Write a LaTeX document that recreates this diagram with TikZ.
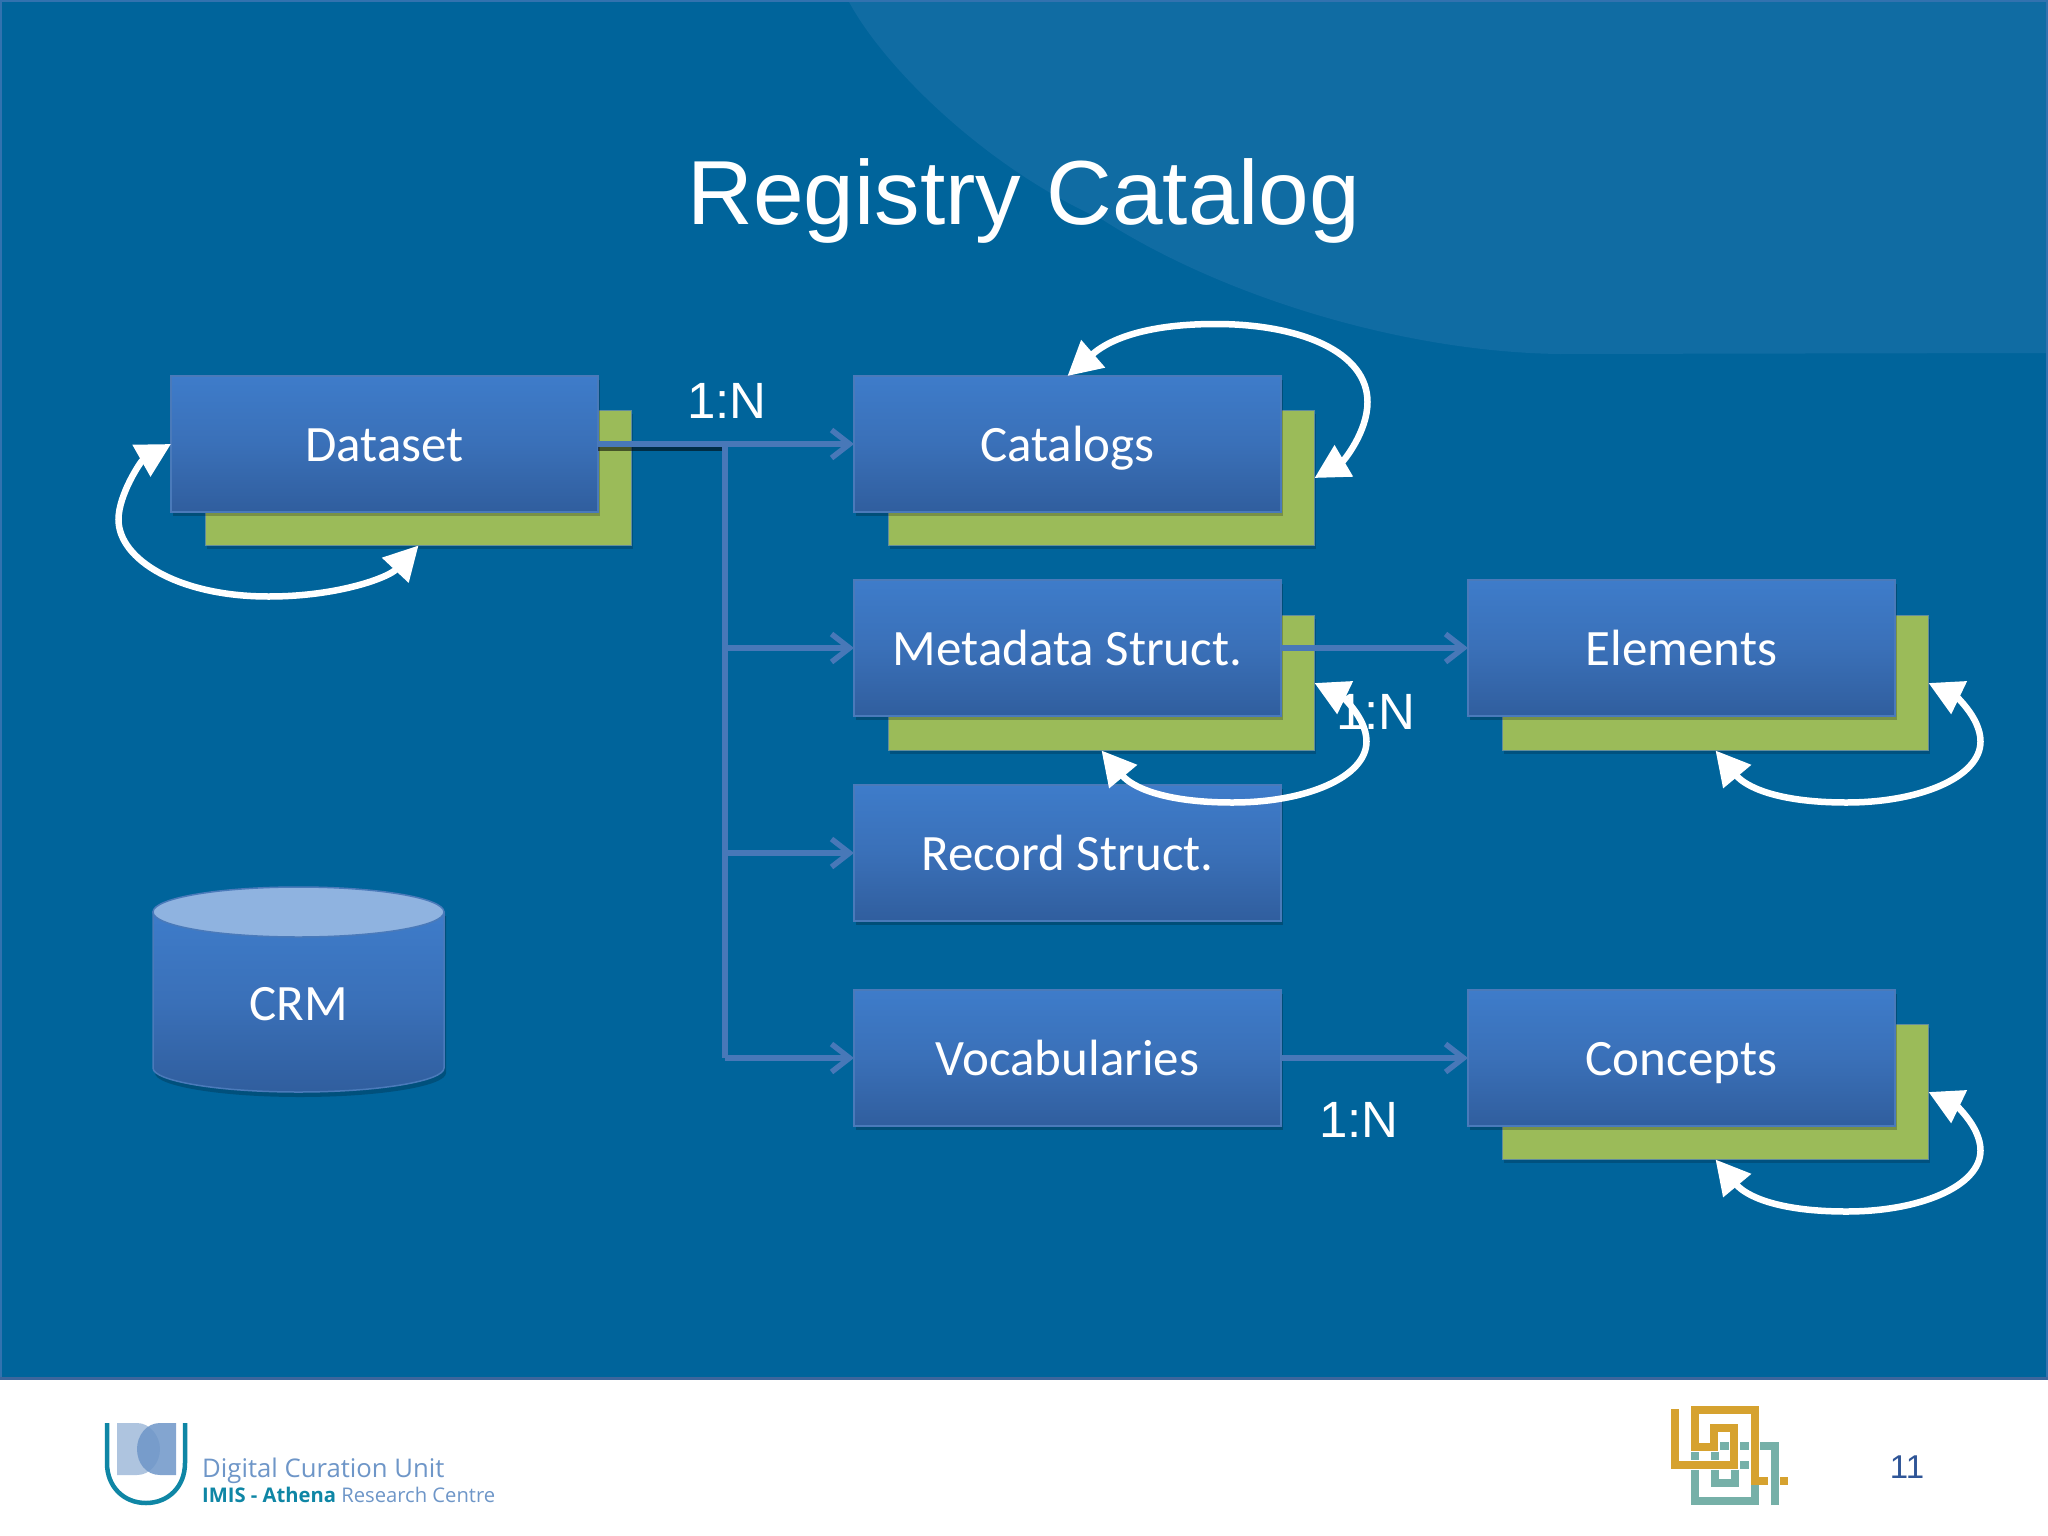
\documentclass[tikz,border=0pt]{standalone}
\usepackage{fontspec}
\setmainfont{Carlito}
\newfontfamily\lib{Liberation Sans}
\newfontfamily\opn{Open Sans}
\usetikzlibrary{arrows.meta,shadows,calc}
\definecolor{bgmain}{RGB}{0,100,155}
\definecolor{bglight}{RGB}{16,108,163}
\definecolor{boxtop}{RGB}{62,124,202}
\definecolor{boxmid}{RGB}{58,112,184}
\definecolor{boxbot}{RGB}{48,94,158}
\definecolor{boxedge}{RGB}{74,122,186}
\definecolor{grn}{RGB}{155,187,89}
\definecolor{conn}{RGB}{72,120,184}
\definecolor{korange}{RGB}{214,162,47}
\definecolor{kteal}{RGB}{118,176,168}
\definecolor{dcuteal}{RGB}{15,134,165}
\definecolor{dcublue}{RGB}{110,150,200}
\definecolor{pagenum}{RGB}{47,85,151}
\tikzset{
  x=1pt,y=-1pt,
  box/.style={minimum width=427pt,minimum height=136pt,inner sep=0pt,outer sep=0pt,
    draw=boxedge,line width=1.5pt,top color=boxtop,bottom color=boxbot,middle color=boxmid,
    text=white,font=\fontsize{51}{60}\selectfont,text height=41pt,text depth=6pt,
    general shadow={shadow xshift=2pt,shadow yshift=-4pt,fill=black,opacity=.22}},
  back/.style={minimum width=426pt,minimum height=135pt,inner sep=0pt,outer sep=0pt,
    fill=grn,draw=boxedge!70!grn,line width=1.5pt,
    general shadow={shadow xshift=1pt,shadow yshift=-3pt,fill=black,opacity=.18}},
  link/.style={draw=conn,line width=5.5pt},
  arrowed/.style={link,-{Straight Barb[length=18pt,width=28pt,line width=5.5pt]}},
  selfloop/.style={draw=white,line width=6.5pt,
    {Triangle[length=34pt,width=35pt]}-{Triangle[length=34pt,width=35pt]}},
  card/.style={text=white,font=\lib\fontsize{51}{60}\selectfont,inner sep=0pt,anchor=base},
  knot/.style={line width=8pt,miter limit=10},
}
\newcommand{\lowerloop}[1]{%
  \draw[selfloop] (#1.south) .. controls +(30,36) and +(-70,0) .. ++(131,52)
    .. controls +(75,0) and +(0,35) .. ++(134,-61)
    .. controls +(0,-25) and +(25,12) .. (#1.east);}
\begin{document}
\begin{tikzpicture}
\useasboundingbox (0,0) rectangle (2048,1536);
% slide background
\fill[white] (0,0) rectangle (2048,1536);
\fill[bgmain] (0,0) rectangle (2048,1377);
\fill[bglight] (848,0) .. controls (885,70) and (990,170) .. (1103,220)
  .. controls (1220,295) and (1400,352) .. (1560,354) -- (2048,353) -- (2048,0) -- cycle;
\draw[line width=2pt,draw=conn!70!bgmain] (1,1377) -- (1,1) -- (2047,1) -- (2047,1377);
\draw[line width=3pt,draw=black!15!conn] (0,1378) -- (2048,1378);
% title
\node[anchor=base,text=white,inner sep=0pt,font=\lib\fontsize{91}{100}\selectfont] (title) at (1024,224) {Registry Catalog};
% back plates
\node[back] (dsg) at (418.5,478) {};
\node[back] (catg) at (1101.5,478) {};
\node[back] (mdg) at (1101.5,683) {};
\node[back] (elg) at (1715.5,683) {};
\node[back] (cog) at (1715.5,1092) {};
% boxes
\node[box] (ds) at (384.5,444) {Dataset};
\node[box] (cat) at (1067.5,444) {Catalogs};
\node[box] (mds) at (1067.5,648) {Metadata Struct.};
\node[box] (rec) at (1067.5,853) {Record Struct.};
\node[box] (voc) at (1067.5,1058) {Vocabularies};
\node[box] (el) at (1681.5,648) {Elements};
\node[box] (co) at (1681.5,1058) {Concepts};
% cylinder
\fill[black,opacity=.2] (155,916) -- (155,1073) .. controls (155,1086) and (220,1097) .. (300,1097) .. controls (381,1097) and (446,1086) .. (446,1073) -- (446,916) -- cycle;
\shade[top color=boxtop,bottom color=boxbot,middle color=boxmid,draw=boxedge,line width=1.5pt]
  (153,912) -- (153,1068) .. controls (153,1081) and (218,1092) .. (298.5,1092)
  .. controls (379,1092) and (444,1081) .. (444,1068) -- (444,912) -- cycle;
\filldraw[fill=white!42!boxtop,draw=boxedge,line width=1.5pt] (298.5,912) ellipse [x radius=145.5,y radius=25];
\node[text=white,font=\fontsize{51}{60}\selectfont,inner sep=0pt,text height=41pt,text depth=7pt] (crm) at (299,1003) {CRM};
% connectors
\coordinate (j) at (725,444);
\draw[line width=5pt,draw=black,opacity=.55] ($(ds.east)+(0,4)$) -- ($(j)+(0,4)$);
\draw[arrowed] (ds.east) -- (cat.west);
\draw[link] (j) -- (j |- voc.west);
\draw[arrowed] (j |- mds.west) -- (mds.west);
\draw[arrowed] (j |- rec.west) -- (rec.west);
\draw[arrowed] (j |- voc.west) -- (voc.west);
\draw[arrowed] (mds.east) -- (el.west);
\draw[arrowed] (voc.east) -- (co.west);
% cardinalities
\node[card] (n1) at (727,418) {1:N};
\node[card] (n2) at (1376,729) {1:N};
\node[card] (n3) at (1359,1137) {1:N};
% self loops
\draw[selfloop] (dsg.south) .. controls +(-30,32) and +(70,0) .. ++(-150,51)
  .. controls +(-90,0) and +(0,40) .. ++(-150,-77)
  .. controls +(0,-25) and +(-30,17) .. (ds.west);
\draw[selfloop] (cat.north) .. controls +(30,-26) and +(-90,0) .. ++(148,-52)
  .. controls +(85,0) and +(0,-50) .. ++(152,78)
  .. controls +(0,30) and +(29,-17) .. (catg.east);
\lowerloop{mdg}
\lowerloop{elg}
\lowerloop{cog}
% footer: DCU logo
\fill[dcublue!70!white,opacity=.8] (117,1423) -- (137,1423) .. controls (150,1423) and (160,1436) .. (160,1449) .. controls (160,1463) and (150,1475) .. (137,1475) -- (117,1475) -- cycle;
\fill[dcublue,opacity=.85] (176,1423) -- (160,1423) .. controls (146,1423) and (137,1436) .. (137,1449) .. controls (137,1463) and (146,1475) .. (160,1475) -- (176,1475) -- cycle;
\draw[dcuteal,line width=4.5pt] (107,1423) -- (107,1463) .. controls (107,1487) and (124,1503) .. (146,1503) .. controls (168,1503) and (185,1487) .. (185,1463) -- (185,1423);
\node[anchor=base west,inner sep=0pt,text=dcublue,font=\opn\fontsize{25.7}{28}\selectfont] (dcu) at (202,1477) {Digital Curation Unit};
\node[anchor=base west,inner sep=0pt,text=dcublue,font=\opn\fontsize{20.2}{24}\selectfont] (imis) at (202,1502) {\textcolor{dcuteal}{\bfseries IMIS - Athena} Research Centre};
% footer: knot logo
\draw[kteal,knot] (1774.5,1505) -- (1774.5,1446) -- (1715,1446) -- (1715,1483) -- (1735,1483) -- (1735,1465) -- (1755,1465) -- (1755,1501) -- (1695,1501) -- (1695,1452);
\draw[white,line width=10.5pt] (1675,1410) -- (1675,1465) -- (1734.4,1465) -- (1734.4,1428) -- (1714.3,1428) -- (1714.3,1447) -- (1694.6,1447) -- (1694.6,1410) -- (1754.5,1410) -- (1754.5,1481);
\draw[korange,knot] (1675,1409) -- (1675,1465) -- (1734.4,1465) -- (1734.4,1428) -- (1714.3,1428) -- (1714.3,1447) -- (1694.6,1447) -- (1694.6,1410) -- (1754.5,1410) -- (1754.5,1481) -- (1768,1481);
\fill[korange] (1780,1477) rectangle (1788,1485);
\node[anchor=base,inner sep=0pt,text=pagenum,font=\lib\fontsize{33}{40}\selectfont] (num) at (1907,1478) {11};
\end{tikzpicture}
\end{document}
